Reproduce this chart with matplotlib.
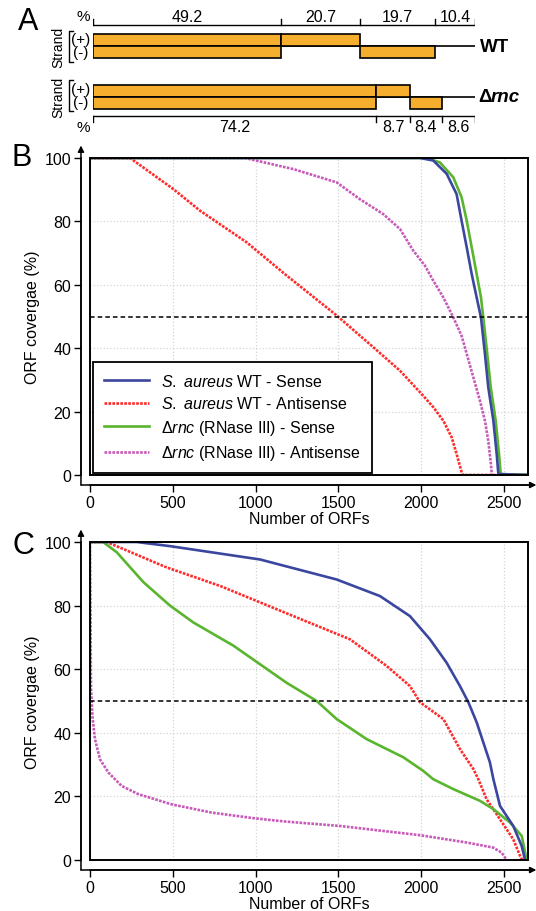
import matplotlib.pyplot as plt
from matplotlib.patches import Rectangle
from matplotlib.transforms import ScaledTranslation
import numpy as np

plt.rcParams['font.family'] = ['Liberation Sans', 'DejaVu Sans']
plt.rcParams['mathtext.fontset'] = 'custom'
plt.rcParams['mathtext.rm'] = 'Liberation Sans'
plt.rcParams['mathtext.it'] = 'Liberation Sans:italic'

# panel A: strand coverage segments (%)
wt_pct = [49.2, 20.7, 19.7, 10.4]
wt_plus = [1, 1, 0, 0]
wt_minus = [1, 0, 1, 0]
rnc_pct = [74.2, 8.7, 8.4, 8.6]
rnc_plus = [1, 1, 0, 0]
rnc_minus = [1, 0, 1, 0]

# panel B: ORF coverage curves
b_wt_s_x = [0, 1932, 1993, 2073, 2154, 2214, 2244, 2275, 2305, 2335, 2361, 2385, 2405, 2436, 2456, 2466, 2650]
b_wt_s_y = [100, 100, 100, 99.2, 95, 88.6, 80.2, 71.8, 63.4, 56, 49.7, 38.2, 27.7, 17.1, 6.6, 0.3, 0]
b_wt_a_x = [0, 242, 503, 664, 946, 1188, 1490, 1711, 1872, 1993, 2073, 2134, 2184, 2214, 2244, 2250, 2650]
b_wt_a_y = [100, 100, 90.2, 83.4, 73.4, 62.9, 50.3, 40.3, 32.9, 26.1, 21.4, 17.1, 11.9, 6.6, 0.9, 0, 0]
b_rnc_s_x = [0, 2033, 2113, 2194, 2244, 2275, 2305, 2335, 2361, 2375, 2399, 2420, 2450, 2470, 2480, 2650]
b_rnc_s_y = [100, 100, 98.6, 93.9, 87.6, 80.2, 71.8, 63.4, 56, 49.7, 38.2, 27.7, 17.1, 6.6, 0.3, 0]
b_rnc_a_x = [0, 936, 1228, 1490, 1630, 1771, 1872, 1952, 2023, 2073, 2134, 2194, 2244, 2275, 2315,
             2355, 2385, 2405, 2421, 2427]
b_rnc_a_y = [100, 100, 96.5, 92.3, 87, 82.3, 77.6, 70.8, 66, 61.3, 56, 49.7, 43.9, 38.2, 30.8,
             23.4, 17.1, 10.8, 3.5, 0]

# panel C
c_wt_s_x = [0, 282, 483, 1027, 1490, 1751, 1932, 2053, 2154, 2234, 2285, 2335, 2415, 2436, 2476, 2556, 2607, 2627]
c_wt_s_y = [100, 100, 98.7, 94.5, 88.2, 83, 76.7, 69.4, 62, 54.7, 49.6, 43.3, 30.7, 25.4, 17, 10.7, 4.4, 0]
c_wt_a_x = [0, 101, 463, 785, 1228, 1570, 1792, 1932, 1993, 2134, 2234, 2315, 2345, 2395, 2476, 2556, 2597, 2610]
c_wt_a_y = [100, 100, 92, 86.2, 76.7, 69.4, 61, 54.7, 49.6, 44.3, 34.9, 28.6, 25.4, 19.1, 12.8, 6.5, 1.3, 0]
c_rnc_s_x = [0, 79, 161, 322, 483, 624, 866, 1188, 1369, 1490, 1671, 1892, 2013, 2073, 2194, 2355, 2436,
             2536, 2607, 2637]
c_rnc_s_y = [100, 100, 96.8, 87.4, 80, 74.7, 67.4, 55.7, 50, 44.3, 38, 32.3, 28, 25.4, 22.3, 18.6, 16,
             11.8, 7.6, 0]
c_rnc_a_x = [0, 3, 6, 15, 30, 60, 111, 191, 292, 493, 735, 996, 1178, 1510, 1993, 2275, 2435, 2486, 2516]
c_rnc_a_y = [100, 75, 54, 45, 38, 31.7, 27.5, 23.3, 20.7, 17.5, 14.9, 13.1, 12.1, 10.7, 7.8, 5.5, 3.9, 2.3, 0]

x_ticks = [0, 500, 1000, 1500, 2000, 2500]
y_ticks = [0, 20, 40, 60, 80, 100]

BLUE = '#3b479f'
RED = '#ff2a2a'
GREEN = '#5ab52e'
MAGENTA = '#c75ab8'
ORANGE = '#f6ae2f'

fig = plt.figure(figsize=(5.36, 9.12), dpi=100)


def off(ax, dx, dy):
    return ax.transAxes + ScaledTranslation(dx / 72, dy / 72, fig.dpi_scale_trans)


# ---------- panel A ----------
axA = fig.add_axes([93 / 536, 1 - 140 / 912, 382 / 536, 140 / 912])
axA.set_xlim(0, 100)
axA.set_ylim(140, 0)
axA.axis('off')


def px2pct(px):
    return (px - 93) / 3.82


def strand_bars(pct, plus, minus, ymid, h):
    lefts = np.concatenate([[0], np.cumsum(pct)[:-1]])
    axA.plot([0, 100], [ymid, ymid], color='k', lw=1.2, zorder=1)
    for l, w, p, m in zip(lefts, pct, plus, minus):
        if p:
            axA.add_patch(Rectangle((l, ymid - h), w, h, fc=ORANGE, ec='k', lw=1.2, zorder=2))
        if m:
            axA.add_patch(Rectangle((l, ymid), w, h, fc=ORANGE, ec='k', lw=1.2, zorder=2))


def scale_bar(pct, yline, tick_dir, ylab):
    edges = np.concatenate([[0], np.cumsum(pct)])
    edges[-1] = 100
    axA.plot([0, 100], [yline, yline], color='k', lw=1)
    for e in edges:
        axA.plot([e, e], [yline, yline + tick_dir], color='k', lw=1)
    for a, b, v in zip(edges[:-1], edges[1:], pct):
        axA.text((a + b) / 2, ylab, f'{v}', ha='center', va='center', fontsize=11.5)
    axA.text(px2pct(83), ylab, '%', ha='center', va='center', fontsize=11, clip_on=False)


def strand_labels(ymid, top, bot):
    axA.text(px2pct(58), ymid, 'Strand', rotation=90, ha='center', va='center', fontsize=10, clip_on=False)
    x0, x1 = px2pct(69), px2pct(73)
    axA.plot([x1, x0, x0, x1], [top, top, bot, bot], color='k', lw=1, clip_on=False)
    axA.text(px2pct(81), ymid - 7, '(+)', ha='center', va='center', fontsize=11, clip_on=False)
    axA.text(px2pct(81), ymid + 6, '(-)', ha='center', va='center', fontsize=11, clip_on=False)


strand_bars(wt_pct, wt_plus, wt_minus, 47, 12)
scale_bar(wt_pct, 26, -6, 17)
strand_labels(47, 32, 63)
axA.text(px2pct(480), 47, 'WT', ha='left', va='center', fontsize=13.5, fontweight='bold', clip_on=False)

strand_bars(rnc_pct, rnc_plus, rnc_minus, 98, 12)
scale_bar(rnc_pct, 117, 6, 128)
strand_labels(97, 81, 112)
axA.text(px2pct(478), 98, 'Δ', ha='left', va='center', fontsize=13.5, fontweight='bold', clip_on=False)
axA.text(px2pct(491), 98, 'rnc', ha='left', va='center', fontsize=13.5, fontweight='bold',
         fontstyle='italic', clip_on=False)

fig.text(18 / 536, 1 - 22 / 912, 'A', fontsize=22, ha='left', va='center')
fig.text(12 / 536, 1 - 158 / 912, 'B', fontsize=22, ha='left', va='center')
fig.text(12 / 536, 1 - 546 / 912, 'C', fontsize=22, ha='left', va='center')


# ---------- panels B and C ----------
def coverage_axes(rect, series, legend):
    ax = fig.add_axes(rect)
    ax.set_xlim(0, 2645)
    ax.set_ylim(0, 100)
    ax.spines['top'].set_visible(False)
    ax.spines['right'].set_visible(False)
    ax.spines['left'].set_position(('outward', 6.5))
    ax.spines['bottom'].set_position(('outward', 7.2))
    for s in ('left', 'bottom'):
        ax.spines[s].set_linewidth(1.1)
    ax.set_xticks(x_ticks)
    ax.set_yticks(y_ticks)
    ax.tick_params(direction='out', length=5, width=1, labelsize=11.5, pad=2)
    ax.grid(True, color='#d4d4d4', ls=':', lw=0.9)
    ax.add_patch(Rectangle((0, 0), 1, 1, transform=ax.transAxes, fill=False, ec='k', lw=1.4,
                           zorder=4, clip_on=False))
    # arrowed outer axes
    ax.annotate('', xy=(0, 1), xycoords=off(ax, -6.5, 9), xytext=(0, 0),
                textcoords=off(ax, -6.5, -7.2),
                arrowprops=dict(arrowstyle='-|>', lw=1.1, color='k', mutation_scale=9,
                                shrinkA=0, shrinkB=0))
    ax.annotate('', xy=(1, 0), xycoords=off(ax, 6, -7.2), xytext=(0, 0),
                textcoords=off(ax, -6.5, -7.2),
                arrowprops=dict(arrowstyle='-|>', lw=1.1, color='k', mutation_scale=9,
                                shrinkA=0, shrinkB=0))
    ax.axhline(50, color='k', ls=(0, (3, 2)), lw=1.1, zorder=3)
    (wsx, wsy), (wax, way), (rsx, rsy), (rax, ray) = series
    ax.plot(rax, ray, color=MAGENTA, lw=1.9, ls=(0, (1, 0.5)), label='Δ$\\it{rnc}$ (RNase III) - Antisense')
    ax.plot(wax, way, color=RED, lw=1.9, ls=(0, (1, 0.5)), label='$\\it{S.\\ aureus}$ WT - Antisense')
    ax.plot(rsx, rsy, color=GREEN, lw=1.9, label='Δ$\\it{rnc}$ (RNase III) - Sense')
    ax.plot(wsx, wsy, color=BLUE, lw=1.9, label='$\\it{S.\\ aureus}$ WT - Sense')
    ax.set_xlabel('Number of ORFs', fontsize=11.5, labelpad=1)
    ax.set_ylabel('ORF covergae (%)', fontsize=11.5, labelpad=3)
    if legend:
        h, l = ax.get_legend_handles_labels()
        order = [3, 1, 2, 0]
        leg = ax.legend([h[i] for i in order], [l[i] for i in order], loc='lower left',
                        bbox_to_anchor=(0.006, 0.005), fontsize=11.5, frameon=True,
                        fancybox=False, framealpha=1, edgecolor='k', handlelength=2.8,
                        labelspacing=0.4, borderpad=0.7, borderaxespad=0, handletextpad=0.8)
        leg.get_frame().set_linewidth(1.3)
        leg.set_zorder(5)
    return ax


coverage_axes([90 / 536, 1 - 476 / 912, 438 / 536, 317 / 912],
              [(b_wt_s_x, b_wt_s_y), (b_wt_a_x, b_wt_a_y), (b_rnc_s_x, b_rnc_s_y), (b_rnc_a_x, b_rnc_a_y)],
              True)
coverage_axes([90 / 536, 1 - 861 / 912, 438 / 536, 318 / 912],
              [(c_wt_s_x, c_wt_s_y), (c_wt_a_x, c_wt_a_y), (c_rnc_s_x, c_rnc_s_y), (c_rnc_a_x, c_rnc_a_y)],
              False)

fig.savefig('out.png', dpi=100)
